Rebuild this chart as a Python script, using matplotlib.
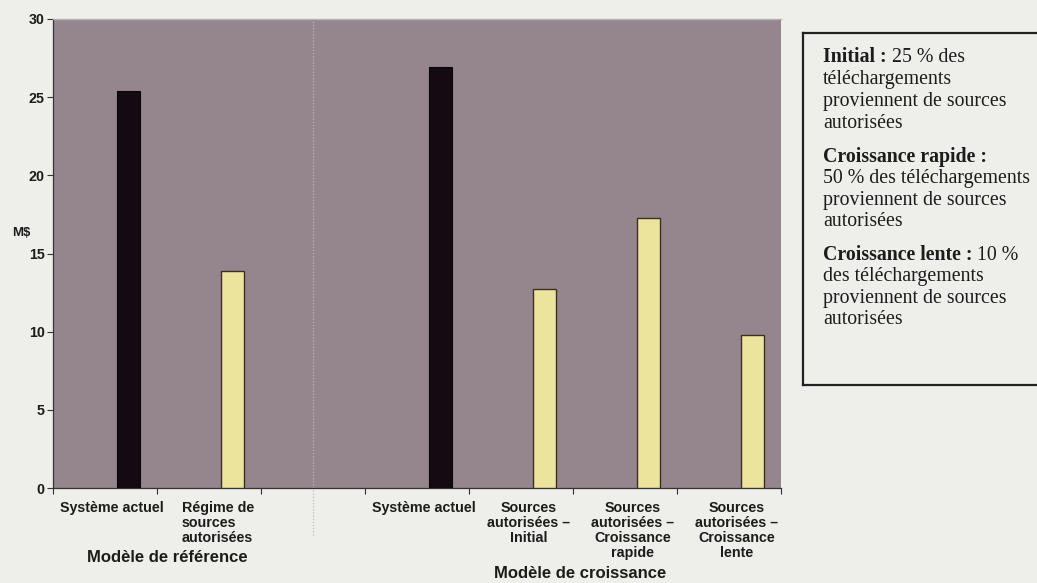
import matplotlib
matplotlib.use("Agg")
import matplotlib.pyplot as plt
import numpy as np

# Revenue estimates (M$) by scenario
categories = [
    "Système actuel",
    "Régime de\nsources\nautorisées",
    "",
    "Système actuel",
    "Sources\nautorisées –\nInitial",
    "Sources\nautorisées –\nCroissance\nrapide",
    "Sources\nautorisées –\nCroissance\nlente",
]
current_system = [25.4, None, None, 26.9, None, None, None]
authorized = [None, 13.9, None, None, 12.7, 17.3, 9.8]
y_ticks = [0, 5, 10, 15, 20, 25, 30]
group_labels = ["Modèle de référence", "Modèle de croissance"]

FIG_BG = "#eeeeeb"
PLOT_BG = "#95868e"
BLACK_BAR = "#140a11"
YELLOW_BAR = "#ece49c"
TEXT = "#1c1c1c"

fig = plt.figure(figsize=(10.37, 5.83), dpi=100, facecolor=FIG_BG)
ax = fig.add_axes([53 / 1037, 1 - 488 / 583, (781 - 53) / 1037, (488 - 19) / 583])
ax.set_facecolor(PLOT_BG)

x = np.arange(len(categories))
offset = 0.23
width = 0.22

for xi, v in zip(x, current_system):
    if v is not None:
        ax.bar(xi + offset, v, width=width, color=BLACK_BAR, edgecolor="#0a0508",
               linewidth=0.8, zorder=3)
for xi, v in zip(x, authorized):
    if v is not None:
        ax.bar(xi + offset, v, width=width, color=YELLOW_BAR, edgecolor="#3a2f22",
               linewidth=1.0, zorder=3)

ax.set_xlim(-0.5, len(categories) - 0.5)
ax.set_ylim(0, 30)

# separator between the two models
ax.plot([2, 2], [-3.0, 30], color="#bdb7b8", linestyle=(0, (1, 1.5)),
        linewidth=0.9, clip_on=False, zorder=2)

ax.set_yticks(y_ticks)
ax.set_yticklabels([str(t) for t in y_ticks], fontsize=10.3, fontweight="bold",
                   color=TEXT, family="Liberation Sans")
ax.tick_params(axis="y", direction="out", length=4, width=0.8, color="#333333", pad=2)

# boundary ticks between categories, labels centred in each slot
ax.set_xticks(np.arange(-0.5, len(categories), 1.0))
ax.set_xticklabels([])
ax.tick_params(axis="x", direction="out", length=4, width=0.8, color="#333333")
for xi, lab in zip(x, categories):
    if not lab:
        continue
    ha = "center"
    xpos = xi + 0.07
    if lab.startswith("Régime"):
        ha = "left"
        xpos = xi - 0.26
    ax.text(xpos, -0.85, lab, ha=ha, va="top", fontsize=10.3, fontweight="bold",
            color=TEXT, family="Liberation Sans", linespacing=1.08,
            transform=ax.transData, clip_on=False)

ax.spines["right"].set_visible(False)
ax.spines["top"].set_color("#b8b2b3")
ax.spines["top"].set_linewidth(1.0)
ax.spines["left"].set_color("#333333")
ax.spines["bottom"].set_color("#333333")
ax.spines["left"].set_linewidth(0.9)
ax.spines["bottom"].set_linewidth(0.9)

fig.text(21 / 1037, 1 - 233 / 583, "M$", ha="center", va="center", fontsize=9.5,
         fontweight="bold", color=TEXT, family="Liberation Sans")

fig.text(167 / 1037, 1 - 558 / 583, group_labels[0], ha="center", va="center",
         fontsize=12, fontweight="bold", color=TEXT, family="Liberation Sans")
fig.text(580 / 1037, 1 - 574 / 583, group_labels[1], ha="center", va="center",
         fontsize=12, fontweight="bold", color=TEXT, family="Liberation Sans")

# explanatory box on the right
box_left, box_top, box_bottom = 803, 33, 385
for xs, ys in (([box_left, 1045], [box_top, box_top]),
               ([box_left, 1045], [box_bottom, box_bottom]),
               ([box_left, box_left], [box_top, box_bottom])):
    fig.add_artist(plt.Line2D([v / 1037 for v in xs], [1 - v / 583 for v in ys],
                              transform=fig.transFigure, color="#222222",
                              linewidth=1.6))

box_lines = [
    (57, "Initial :", " 25 % des"),
    (80, "", "téléchargements"),
    (102, "", "proviennent de sources"),
    (123, "", "autorisées"),
    (157, "Croissance rapide :", ""),
    (179, "", "50 % des téléchargements"),
    (200, "", "proviennent de sources"),
    (222, "", "autorisées"),
    (255, "Croissance lente :", " 10 %"),
    (277, "", "des téléchargements"),
    (298, "", "proviennent de sources"),
    (320, "", "autorisées"),
]
renderer = fig.canvas.get_renderer()
text_x = 823
for ypix, bold_part, plain_part in box_lines:
    xf = text_x / 1037
    yf = 1 - ypix / 583
    if bold_part:
        t = fig.text(xf, yf, bold_part, ha="left", va="center", fontsize=14.3,
                     fontweight="bold", color=TEXT, family="Liberation Serif")
        bb = t.get_window_extent(renderer)
        xf = bb.x1 / fig.bbox.width
    if plain_part:
        fig.text(xf, yf, plain_part, ha="left", va="center", fontsize=14.3,
                 color=TEXT, family="Liberation Serif")

fig.savefig("out.png", dpi=100, facecolor=FIG_BG)
